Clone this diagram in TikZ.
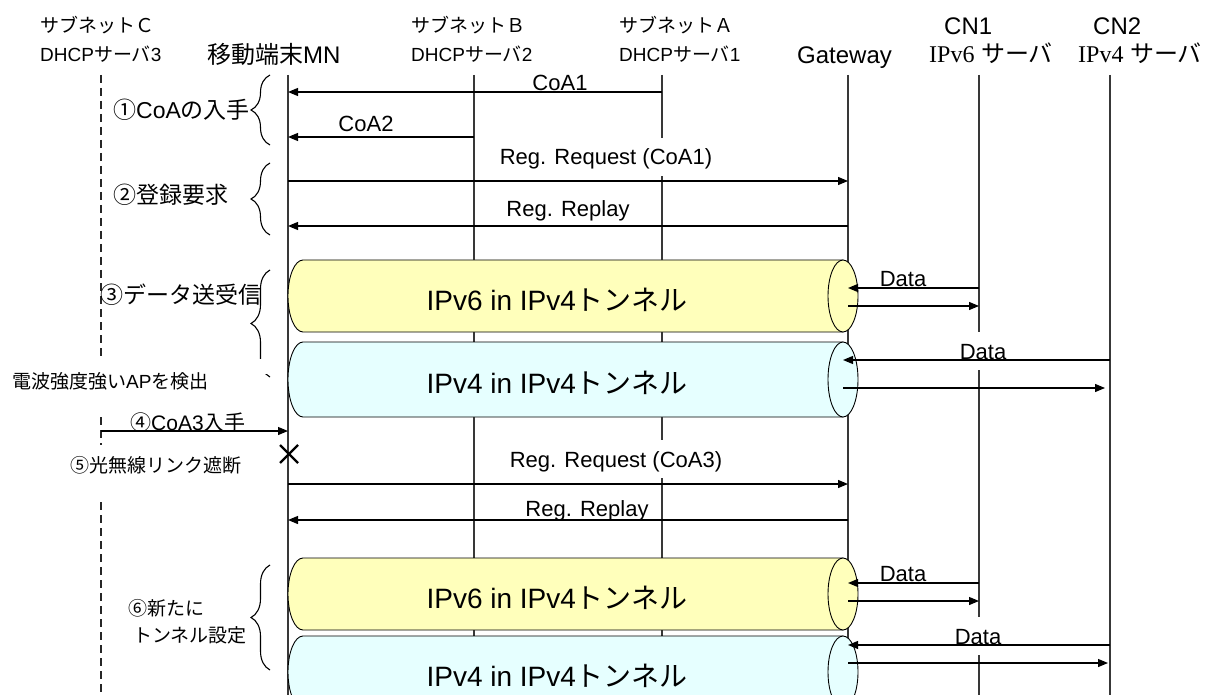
\documentclass[tikz,border=0pt]{standalone}
\usepackage{fontspec}
\setmainfont{Liberation Sans}
\newfontfamily\jp{Noto Sans CJK JP}
\newfontfamily\tms{Liberation Serif}
\usetikzlibrary{arrows.meta,decorations.pathreplacing}

\definecolor{tubeyellow}{RGB}{255,255,187}
\definecolor{tubecyan}{RGB}{230,255,255}

% tunnel cylinder: #1 name, #2 top y, #3 bottom y, #4 colour, #5 text
\newcommand{\tube}[5]{%
  \filldraw[tubeline,fill=#4] (843,#2) -- (303,#2)
    arc[start angle=-90,end angle=-270,x radius=15,y radius={(#3-#2)/2}]
    -- (843,#3) -- cycle;
  \filldraw[tubeline,fill=#4] (843,{(#2+#3)/2}) ellipse [x radius=15,y radius={(#3-#2)/2}];
  \node[tubetext] (#1) at (557,{(#2+#3)/2+14}) {#5};
}

\begin{document}
\begin{tikzpicture}[x=1pt,y=-1pt,
  lifeline/.style={line width=1.2pt,draw=black!78},
  dashline/.style={line width=1.2pt,draw=black!85,dash pattern=on 8pt off 5pt},
  msg/.style={line width=1.2pt,-{Triangle[length=10pt,width=8pt]}},
  tubeline/.style={line width=0.9pt,draw=black},
  fs/.style={font=\fontsize{#1}{#1}\selectfont},
  lbl/.style={inner sep=0pt,anchor=base west},
  hdrs/.style={lbl,fs=19},
  hdrb/.style={lbl,fs=24},
  msglbl/.style={inner sep=0pt,anchor=base,fs=22},
  masklbl/.style={msglbl,fill=white,text height=27pt,text depth=11pt,inner xsep=2pt},
  sidebig/.style={lbl,fs=23},
  sidesmall/.style={lbl,fs=19},
  tubetext/.style={inner sep=0pt,anchor=base,fs=28},
  curly/.style={decorate,decoration={brace,amplitude=19pt},line width=1.1pt},
  cross/.style={line width=2.2pt}
]
\clip (0,0) rectangle (1205,695);
\fill[white] (0,0) rectangle (1205,695);

% lifeline anchors
\coordinate (C)   at (101,75);
\coordinate (MN)  at (288,75);
\coordinate (B)   at (474,75);
\coordinate (A)   at (662,75);
\coordinate (GW)  at (848,75);
\coordinate (CN1) at (979,75);
\coordinate (CN2) at (1110,75);
\coordinate (bottom) at (0,695);

% headers
\node[hdrs] (hC1) at (40,33) {\jp サブネットＣ};
\node[hdrs] (hC2) at (40,62) {DHCP{\jp サーバ}3};
\node[hdrb] (hMN) at (207,64) {{\jp 移動端末}MN};
\node[hdrs] (hB1) at (411,33) {\jp サブネットＢ};
\node[hdrs] (hB2) at (411,62) {DHCP{\jp サーバ}2};
\node[hdrs] (hA1) at (619,33) {\jp サブネットＡ};
\node[hdrs] (hA2) at (619,62) {DHCP{\jp サーバ}1};
\node[hdrb] (hGW) at (797,64) {Gateway};
\node[hdrb] (hN1) at (944,35) {CN1};
\node[hdrb] (hN1b) at (929,63) {{\tms IPv6} {\jp サーバ}};
\node[hdrb] (hN2) at (1093,35) {CN2};
\node[hdrb] (hN2b) at (1078,63) {{\tms IPv4} {\jp サーバ}};

% lifelines
\draw[dashline] (C) -- (C |- 0,358);
\draw[dashline] (C |- 0,417) -- (C |- 0,445);
\draw[dashline] (C |- 0,502) -- (C |- bottom);
\foreach \p in {MN,B,A,GW,CN1,CN2}
  \draw[lifeline] (\p) -- (\p |- bottom);

% tunnels
\tube{t1}{260}{332}{tubeyellow}{IPv6 in IPv4{\jp トンネル}}
\tube{t2}{342}{417}{tubecyan}{IPv4 in IPv4{\jp トンネル}}
\tube{t3}{558}{630}{tubeyellow}{IPv6 in IPv4{\jp トンネル}}
\tube{t4}{636}{708}{tubecyan}{IPv4 in IPv4{\jp トンネル}}

% message labels
\node[msglbl] (lCoA1) at (560,91) {CoA1};
\node[msglbl] (lCoA2) at (366,132) {CoA2};
\node[masklbl] (lReq1) at (606,165) {Reg. Request (CoA1)};
\node[msglbl] (lRep1) at (568,217) {Reg. Replay};
\node[msglbl] (lD1) at (903,286) {Data};
\node[masklbl] (lD2) at (983,359) {Data};
\node[masklbl] (lReq3) at (616,467) {Reg. Request (CoA3)};
\node[msglbl] (lRep3) at (587,516) {Reg. Replay};
\node[msglbl] (lD3) at (903,581) {Data};
\node[masklbl] (lD4) at (978,644) {Data};

% messages
\draw[msg] (A |- 0,92) -- (MN |- 0,92);
\draw[msg] (B |- 0,137) -- (MN |- 0,137);
\draw[msg] (MN |- 0,181) -- (GW |- 0,181);
\draw[msg] (GW |- 0,226) -- (MN |- 0,226);
\draw[msg] (CN1 |- 0,288) -- (GW |- 0,288);
\draw[msg] (GW |- 0,306) -- (CN1 |- 0,306);
\draw[msg] (CN2 |- 0,360) -- ([xshift=-5pt]GW |- 0,360);
\draw[msg,shorten >=5pt] ([xshift=-5pt]GW |- 0,388) -- (CN2 |- 0,388);
\draw[msg] (C |- 0,431) -- (MN |- 0,431);
\draw[msg] (MN |- 0,484) -- (GW |- 0,484);
\draw[msg] (GW |- 0,520) -- (MN |- 0,520);
\draw[msg] (CN1 |- 0,583) -- (GW |- 0,583);
\draw[msg] (GW |- 0,601) -- (CN1 |- 0,601);
\draw[msg] (CN2 |- 0,645) -- (GW |- 0,645);
\draw[msg,shorten >=2pt] (GW |- 0,663) -- (CN2 |- 0,663);

% link cut mark
\draw[cross] (280,445) -- (298,463) (280,463) -- (298,445);

% phase braces
\draw[curly] (270,145) -- (270,75);
\draw[curly] (270,235) -- (270,163);
\begin{scope}
  \clip (200,250) rectangle (285,358);
  \draw[curly] (270,377) -- (270,270);
\end{scope}
\begin{scope}
  \clip (200,374) rectangle (285,400);
  \draw[curly] (270,377) -- (270,270);
\end{scope}
\draw[curly] (270,670) -- (270,565);

% phase labels
\node[sidebig] (s1) at (113,119) {{\jp ①}CoA{\jp の入手}};
\node[sidebig] (s2) at (113,204) {\jp ②登録要求};
\node[sidebig] (s3) at (100,303) {\jp ③データ送受信};
\node[sidesmall] (sAP) at (12,388) {{\jp 電波強度強い}AP{\jp を検出}};
\node[msglbl,fs=21] (s4) at (188,430) {{\jp ④}CoA3{\jp 入手}};
\node[sidesmall] (s5) at (70,472) {\jp ⑤光無線リンク遮断};
\node[sidesmall] (s6a) at (128,615) {\jp ⑥新たに};
\node[sidesmall] (s6b) at (133,642) {\jp トンネル設定};
\end{tikzpicture}
\end{document}
